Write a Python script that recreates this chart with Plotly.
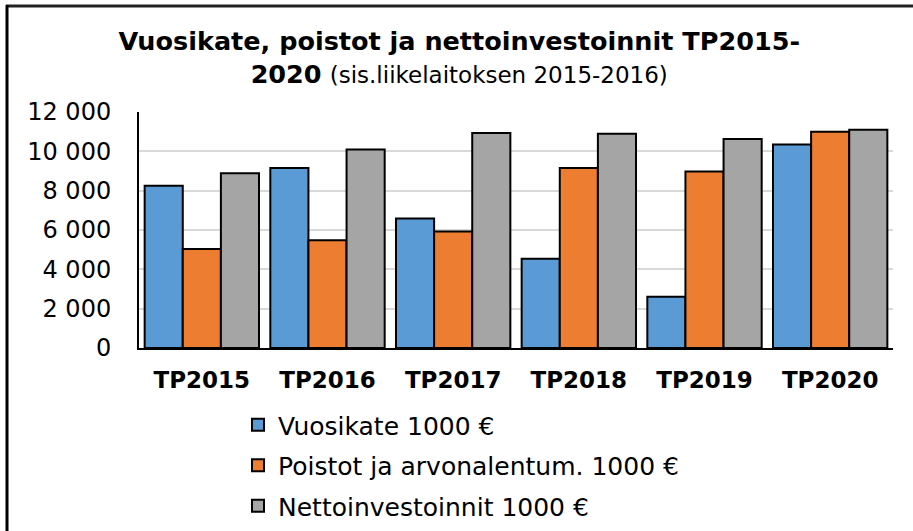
import plotly.graph_objects as go

categories = ["TP2015", "TP2016", "TP2017", "TP2018", "TP2019", "TP2020"]
vuosikate = [8250, 9150, 6580, 4540, 2610, 10350]
poistot = [5030, 5480, 5930, 9150, 8980, 11000]
netto = [8880, 10090, 10930, 10900, 10630, 11100]
series_names = ["Vuosikate 1000 €", "Poistot ja arvonalentum. 1000 €", "Nettoinvestoinnit 1000 €"]
colors = ["#5B9BD5", "#ED7D31", "#A5A5A5"]
ytick_vals = [0, 2000, 4000, 6000, 8000, 10000, 12000]
ytick_text = ["0", "2 000", "4 000", "6 000", "8 000", "10 000", "12 000"]

FONT = "DejaVu Sans, Liberation Sans, Arial, sans-serif"

fig = go.Figure()
for i, (name, vals) in enumerate(zip(series_names, [vuosikate, poistot, netto])):
    fig.add_trace(go.Bar(
        x=categories, y=vals, name=name, legendgroup=f"g{i}",
        marker=dict(color=colors[i], line=dict(color="#000000", width=2)),
    ))

L, R, T, B = 139, 20, 112, 183
W, H = 913, 531
pw, ph = W - L - R, H - T - B

def px2x(px):
    return (px - L) / pw

def px2y(py):
    return (H - B - py) / ph

fig.update_layout(
    width=W, height=H,
    margin=dict(l=L, r=R, t=T, b=B, autoexpand=False),
    paper_bgcolor="white", plot_bgcolor="white",
    barmode="group", bargap=0.09, bargroupgap=0,
    font=dict(family=FONT, color="#000000"),
    title=dict(
        text="<b>Vuosikate, poistot ja nettoinvestoinnit TP2015-</b><br><b>2020</b> <span style='font-size:23px'>(sis.liikelaitoksen 2015-2016)</span>",
        x=0.503, xanchor="center", xref="container", y=1 - 50 / H, yanchor="top",
        yref="container",
        font=dict(size=25.5, family=FONT, color="#000000"),
    ),
    showlegend=True,
    legend=dict(
        x=px2x(238), y=px2y(402), xanchor="left", yanchor="top",
        orientation="v", font=dict(size=25, family=FONT), tracegroupgap=5,
        bgcolor="rgba(0,0,0,0)",
    ),
    xaxis=dict(
        showline=True, linecolor="#000000", linewidth=2,
        tickfont=dict(size=23, family=FONT),
        tickprefix="<b>", ticksuffix="</b>",
        ticks="", ticklabelstandoff=10,
    ),
    yaxis=dict(
        range=[0, 12000], tickvals=ytick_vals, ticktext=ytick_text,
        showgrid=True, gridcolor="#D9D9D9", gridwidth=2,
        showline=True, linecolor="#000000", linewidth=2,
        tickfont=dict(size=24, family=FONT), ticks="", ticklabelstandoff=21,
        zeroline=False,
    ),
    shapes=[
        dict(type="line", xref="paper", yref="paper",
             x0=px2x(6), x1=px2x(913), y0=px2y(6), y1=px2y(6),
             line=dict(color="#222222", width=3)),
        dict(type="line", xref="paper", yref="paper",
             x0=px2x(7), x1=px2x(7), y0=px2y(5), y1=px2y(531),
             line=dict(color="#000000", width=3)),
    ],
)

fig.write_html("out.html", config={"displayModeBar": False},
               post_script="document.body.style.margin='0';document.body.style.padding='0';")
